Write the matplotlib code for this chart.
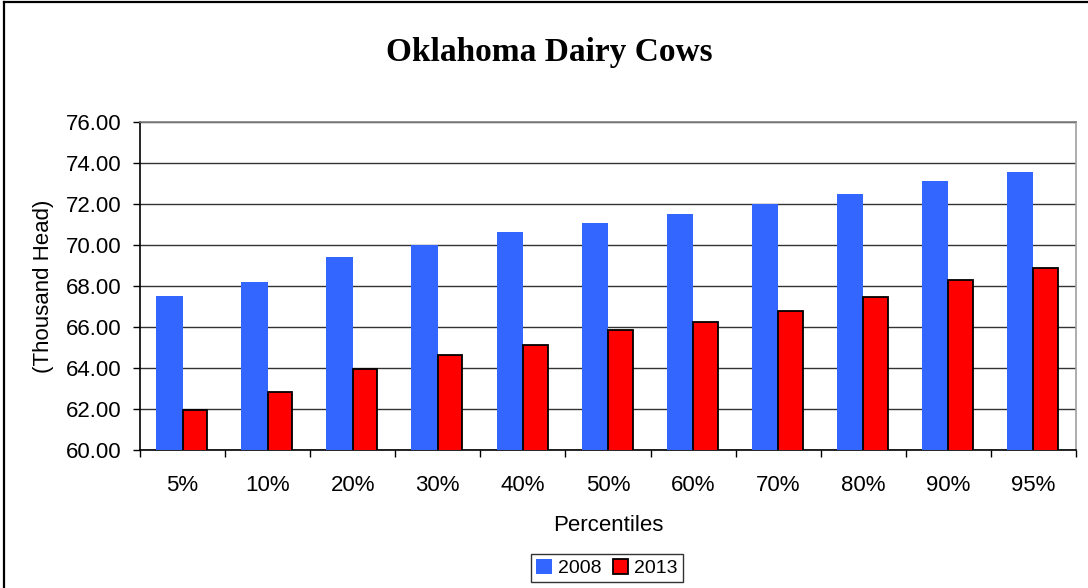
import matplotlib.pyplot as plt
from matplotlib.lines import Line2D
import numpy as np

# Oklahoma dairy cows, percentile estimates (thousand head)
percentiles = ['5%', '10%', '20%', '30%', '40%', '50%', '60%', '70%', '80%', '90%', '95%']
cows_2008 = [67.51, 68.20, 69.40, 69.98, 70.65, 71.09, 71.53, 71.98, 72.49, 73.12, 73.56]
cows_2013 = [61.97, 62.85, 63.97, 64.65, 65.14, 65.84, 66.24, 66.78, 67.48, 68.31, 68.89]
y_ticks = [60, 62, 64, 66, 68, 70, 72, 74, 76]

plt.rcParams['font.family'] = ['Liberation Sans', 'DejaVu Sans']

fig = plt.figure(figsize=(10.88, 5.88), dpi=100)
ax = fig.add_axes([140 / 1088, 1 - 450 / 588, 936 / 1088, 328 / 588])

x = np.arange(len(percentiles))
ax.bar(x, cows_2008, width=-0.31, align='edge', color='#3366FF',
       edgecolor='none', label='2008', zorder=3)
ax.bar(x, cows_2013, width=0.29, align='edge', color='#FF0000',
       edgecolor='black', linewidth=1.3, label='2013', zorder=3)

ax.set_xlim(-0.5, len(percentiles) - 0.5)
ax.set_ylim(60, 76)
ax.set_yticks(y_ticks)
ax.set_yticklabels([f'{v:.2f}' for v in y_ticks])
ax.yaxis.grid(True, color='#333333', linewidth=1, zorder=0)

ax.set_xticks(x)
ax.set_xticklabels(percentiles)
ax.set_xticks(np.arange(-0.5, len(percentiles)), minor=True)
ax.tick_params(axis='x', which='major', length=0, pad=18, labelsize=16)
ax.tick_params(axis='x', which='minor', length=5, width=1, direction='out')
ax.tick_params(axis='y', length=5, width=1, direction='out', pad=8, labelsize=16)

ax.spines['top'].set_color('#808080')
ax.spines['right'].set_color('#A0A0A0')
ax.spines['left'].set_color('black')
ax.spines['bottom'].set_color('black')
for s in ax.spines.values():
    s.set_linewidth(1.2)

ax.set_xlabel('Percentiles', fontsize=16, labelpad=14)
ax.set_ylabel('(Thousand Head)', fontsize=16, labelpad=9)

fig.text(549 / 1088, 1 - 53 / 588, 'Oklahoma Dairy Cows', ha='center', va='center',
         fontsize=24, fontweight='bold', family='Liberation Serif')

leg = fig.legend(loc='center', bbox_to_anchor=(607 / 1088, 1 - 568 / 588), ncol=2,
                 fontsize=14, frameon=True, fancybox=False, handlelength=0.8,
                 handleheight=0.8, handletextpad=0.3, columnspacing=0.6,
                 borderpad=0.25, borderaxespad=0)
leg.get_frame().set_edgecolor('black')
leg.get_frame().set_linewidth(1)

# outer chart border (only left and top visible in the crop)
fig.add_artist(Line2D([4 / 1088, 4 / 1088], [0, 1 - 2 / 588], color='black', linewidth=1.6))
fig.add_artist(Line2D([4 / 1088, 1], [1 - 2 / 588, 1 - 2 / 588], color='black', linewidth=1.6))

fig.savefig('out.png', dpi=100)
